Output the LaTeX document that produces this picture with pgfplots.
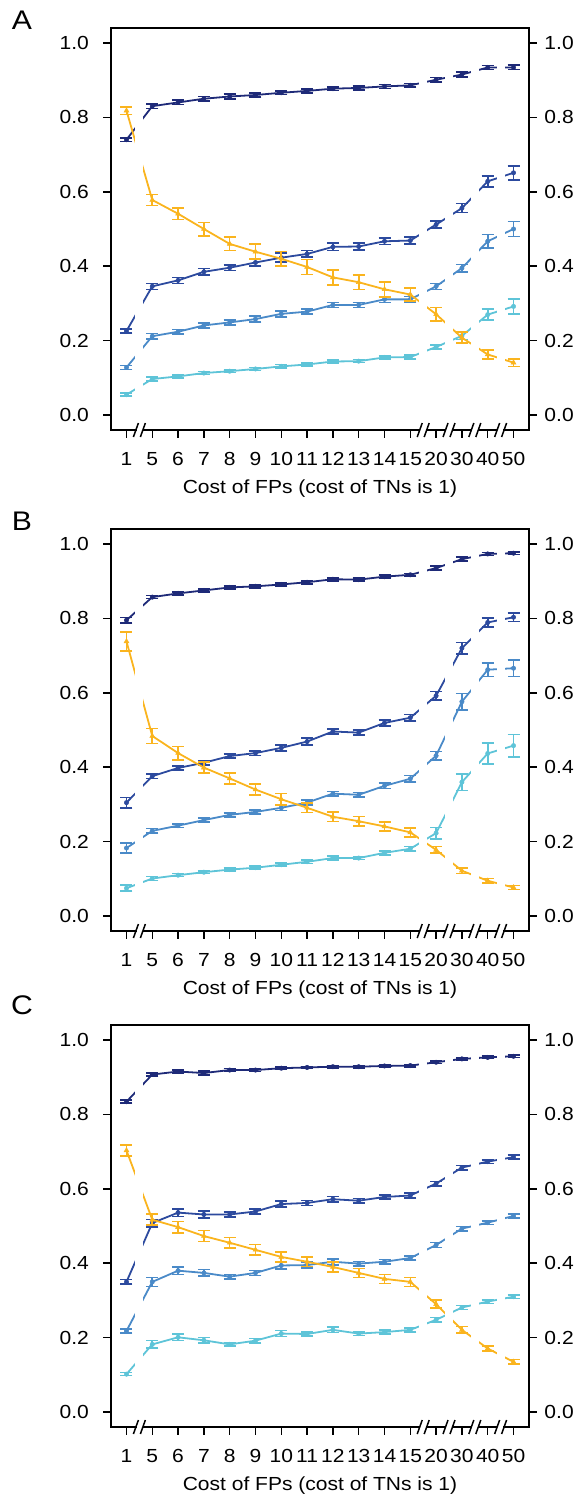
\documentclass[border=0pt]{standalone}
\usepackage{pgfplots}
\pgfplotsset{compat=1.18}
\usepackage{pgfplotstable}
\usepackage{fontspec}
\setmainfont{Liberation Sans}

\definecolor{cNavy}{HTML}{1E2A78}
\definecolor{cDark}{HTML}{2C4A9E}
\definecolor{cMed}{HTML}{4A8AC8}
\definecolor{cCyan}{HTML}{5EC4D8}
\definecolor{cOrange}{HTML}{FAB41E}

\pgfplotstableread{
x nv nve db dbe mb mbe cy cye or ore
0 0.740 0.005 0.226 0.005 0.128 0.005 0.055 0.004 0.818 0.010
1 0.830 0.006 0.346 0.008 0.212 0.007 0.097 0.005 0.578 0.015
2 0.840 0.006 0.362 0.008 0.224 0.006 0.104 0.004 0.541 0.015
3 0.850 0.006 0.385 0.009 0.241 0.007 0.113 0.004 0.500 0.018
4 0.856 0.006 0.396 0.008 0.249 0.007 0.118 0.004 0.460 0.018
5 0.860 0.006 0.410 0.010 0.258 0.008 0.124 0.004 0.439 0.020
6 0.866 0.005 0.423 0.012 0.272 0.008 0.131 0.005 0.420 0.020
7 0.871 0.005 0.433 0.009 0.278 0.007 0.136 0.004 0.398 0.020
8 0.877 0.005 0.452 0.010 0.296 0.007 0.144 0.004 0.370 0.020
9 0.879 0.005 0.453 0.009 0.296 0.007 0.145 0.004 0.357 0.020
10 0.883 0.005 0.467 0.009 0.311 0.008 0.155 0.004 0.338 0.020
11 0.886 0.005 0.469 0.009 0.311 0.008 0.156 0.005 0.324 0.018
12 0.901 0.006 0.512 0.010 0.346 0.008 0.183 0.006 0.271 0.018
13 0.915 0.006 0.556 0.012 0.395 0.010 0.213 0.010 0.208 0.015
14 0.934 0.005 0.628 0.015 0.467 0.018 0.270 0.015 0.163 0.012
15 0.934 0.006 0.651 0.019 0.500 0.020 0.292 0.020 0.141 0.010
}\tabA

\pgfplotstableread{
x nv nve db dbe mb mbe cy cye or ore
0 0.795 0.007 0.305 0.014 0.183 0.013 0.075 0.008 0.738 0.025
1 0.857 0.004 0.376 0.006 0.229 0.006 0.101 0.005 0.484 0.020
2 0.867 0.004 0.398 0.005 0.243 0.005 0.110 0.004 0.438 0.018
3 0.875 0.004 0.412 0.006 0.258 0.005 0.118 0.004 0.399 0.015
4 0.883 0.004 0.430 0.006 0.272 0.005 0.125 0.004 0.370 0.015
5 0.886 0.004 0.438 0.006 0.280 0.005 0.130 0.004 0.340 0.015
6 0.891 0.004 0.452 0.008 0.291 0.007 0.138 0.004 0.314 0.015
7 0.897 0.004 0.469 0.009 0.305 0.007 0.146 0.005 0.291 0.013
8 0.905 0.004 0.496 0.007 0.329 0.006 0.156 0.005 0.267 0.013
9 0.904 0.004 0.493 0.007 0.326 0.006 0.156 0.004 0.255 0.013
10 0.912 0.004 0.519 0.008 0.350 0.007 0.170 0.005 0.241 0.012
11 0.917 0.004 0.533 0.009 0.369 0.009 0.181 0.006 0.225 0.012
12 0.935 0.005 0.592 0.011 0.431 0.011 0.223 0.015 0.178 0.009
13 0.959 0.005 0.720 0.015 0.576 0.022 0.360 0.022 0.122 0.008
14 0.973 0.004 0.789 0.012 0.662 0.018 0.437 0.028 0.095 0.006
15 0.975 0.004 0.803 0.011 0.666 0.022 0.458 0.030 0.077 0.005
}\tabB

\pgfplotstableread{
x nv nve db dbe mb mbe cy cye or ore
0 0.834 0.004 0.350 0.006 0.218 0.006 0.102 0.004 0.703 0.015
1 0.907 0.004 0.508 0.010 0.350 0.012 0.182 0.010 0.517 0.015
2 0.915 0.004 0.536 0.010 0.380 0.010 0.201 0.009 0.497 0.015
3 0.911 0.006 0.531 0.009 0.374 0.009 0.193 0.007 0.473 0.015
4 0.919 0.004 0.531 0.006 0.364 0.006 0.182 0.005 0.455 0.014
5 0.919 0.004 0.539 0.006 0.374 0.007 0.192 0.006 0.436 0.014
6 0.924 0.004 0.559 0.008 0.394 0.009 0.211 0.008 0.417 0.013
7 0.926 0.003 0.562 0.007 0.395 0.008 0.210 0.006 0.404 0.013
8 0.928 0.003 0.572 0.007 0.404 0.008 0.221 0.007 0.390 0.013
9 0.928 0.003 0.568 0.006 0.399 0.006 0.211 0.005 0.374 0.012
10 0.930 0.003 0.578 0.006 0.404 0.006 0.215 0.005 0.358 0.012
11 0.931 0.003 0.582 0.006 0.414 0.006 0.221 0.005 0.350 0.012
12 0.940 0.003 0.614 0.006 0.449 0.007 0.248 0.006 0.290 0.011
13 0.949 0.003 0.657 0.006 0.493 0.006 0.281 0.005 0.221 0.009
14 0.953 0.003 0.673 0.005 0.509 0.005 0.297 0.005 0.171 0.007
15 0.956 0.003 0.685 0.005 0.527 0.005 0.310 0.005 0.135 0.006
}\tabC

\newcommand{\tfont}{\fontsize{19}{21}\selectfont}

\pgfplotsset{
  common/.style={
    scale only axis, width=418bp, height=402bp,
    xmin=-0.6, xmax=15.6, ymin=-0.04, ymax=1.04,
    anchor=north west,
    axis line style={draw=none},
    ytick={0,0.2,0.4,0.6,0.8,1.0},
    yticklabels={0.0,0.2,0.4,0.6,0.8,1.0},
    tick align=outside,
    major tick length=7.5bp,
    tick style={black, line width=1.5bp},
    ticklabel style={font=\tfont, xscale=1.11, inner sep=0pt},
  },
  panel/.style={
    common,
    xtick={0,...,15},
    xticklabels={1,5,6,7,8,9,10,11,12,13,14,15,20,30,40,50},
    xtick pos=bottom, ytick pos=left,
    clip mode=individual,
    xticklabel style={anchor=north, yshift=-15bp},
    yticklabel style={anchor=east, xshift=-13bp},
    xlabel={Cost of FPs (cost of TNs is 1)},
    xlabel style={font=\tfont, xscale=1.11, at={(axis description cs:0.5,0)}, anchor=base, yshift=-63bp, inner sep=0pt},
  },
  rightax/.style={
    common,
    xtick=\empty,
    ytick pos=right, yticklabel pos=right,
    yticklabel style={anchor=west, xshift=7bp},
  },
  ser/.style={color=#1, solid, line width=1.8bp,
    mark options={line width=0.5bp},
    error bars/y dir=both, error bars/y explicit,
    error bars/error bar style={line width=1.6bp, #1},
    error bars/error mark options={rotate=90, mark size=6bp, line width=1.6bp, #1}},
}

\newcommand{\wband}[2]{\fill[white] (axis cs:#1,-0.03) rectangle (axis cs:#2,1.03);}
\newcommand{\brkslash}[1]{\draw[line width=1.5bp] ([xshift=-2.5bp,yshift=-7bp]axis cs:#1,-0.04) -- ([xshift=2.5bp,yshift=7bp]axis cs:#1,-0.04);}
\newcommand{\frameandbreaks}{%
  \wband{0.345}{0.655}\wband{11.345}{11.655}\wband{12.345}{12.655}\wband{13.345}{13.655}\wband{14.345}{14.655}%
  \draw[line width=1.9bp, line cap=rect] (axis cs:0.365,-0.04) -- (axis cs:-0.6,-0.04) -- (axis cs:-0.6,1.04) -- (axis cs:15.6,1.04) -- (axis cs:15.6,-0.04) -- (axis cs:14.635,-0.04);
  \draw[line width=1.9bp] (axis cs:0.635,-0.04) -- (axis cs:11.365,-0.04);
  \draw[line width=1.9bp] (axis cs:11.635,-0.04) -- (axis cs:12.365,-0.04);
  \draw[line width=1.9bp] (axis cs:12.635,-0.04) -- (axis cs:13.365,-0.04);
  \draw[line width=1.9bp] (axis cs:13.635,-0.04) -- (axis cs:14.365,-0.04);
  \brkslash{0.365}\brkslash{0.635}\brkslash{11.365}\brkslash{11.635}\brkslash{12.365}\brkslash{12.635}\brkslash{13.365}\brkslash{13.635}\brkslash{14.365}\brkslash{14.635}%
}
\newcommand{\series}[1]{%
  \addplot[ser=cNavy, mark=*, mark size=2.2bp] table[x=x, y=nv, y error=nve] {#1};
  \addplot[ser=cDark, mark=*, mark size=2.2bp] table[x=x, y=db, y error=dbe] {#1};
  \addplot[ser=cMed, mark=*, mark size=2.2bp] table[x=x, y=mb, y error=mbe] {#1};
  \addplot[ser=cCyan, mark=*, mark size=2.2bp] table[x=x, y=cy, y error=cye] {#1};
  \addplot[ser=cOrange, mark=triangle*, mark size=2.8bp] table[x=x, y=or, y error=ore] {#1};
}

\begin{document}
\begin{tikzpicture}
\useasboundingbox (0,0) rectangle (579bp,-1495bp);
\node[font=\fontsize{27}{29}\selectfont, xscale=1.12] at (22bp,-20bp) {A};
\node[font=\fontsize{27}{29}\selectfont, xscale=1.12] at (22bp,-521bp) {B};
\node[font=\fontsize{27}{29}\selectfont, xscale=1.12] at (22bp,-1005bp) {C};

\begin{axis}[panel, at={(111bp,-28bp)}]
\series{\tabA}
\frameandbreaks
\end{axis}
\begin{axis}[rightax, at={(111bp,-28bp)}]
\end{axis}

\begin{axis}[panel, at={(111bp,-529bp)}]
\series{\tabB}
\frameandbreaks
\end{axis}
\begin{axis}[rightax, at={(111bp,-529bp)}]
\end{axis}

\begin{axis}[panel, at={(111bp,-1025bp)}]
\series{\tabC}
\frameandbreaks
\end{axis}
\begin{axis}[rightax, at={(111bp,-1025bp)}]
\end{axis}
\end{tikzpicture}
\end{document}
